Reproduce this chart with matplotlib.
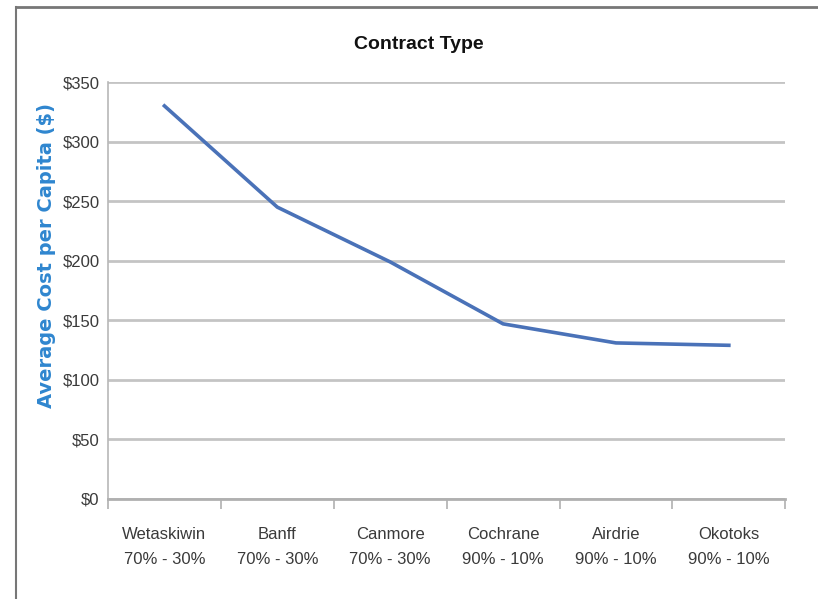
import matplotlib.pyplot as plt
from matplotlib.lines import Line2D

# data
towns = ['Wetaskiwin', 'Banff', 'Canmore', 'Cochrane', 'Airdrie', 'Okotoks']
splits = ['70% - 30%', '70% - 30%', '70% - 30%', '90% - 10%', '90% - 10%', '90% - 10%']
cost = [330, 245, 199, 147, 131, 129]
yticks = [0, 50, 100, 150, 200, 250, 300, 350]

narrow = ['Liberation Sans Narrow', 'Liberation Sans', 'DejaVu Sans']

fig = plt.figure(figsize=(8.18, 5.99), dpi=100)
ax = fig.add_axes([0.132, 0.167, 0.828, 0.696])

x = list(range(len(towns)))
ax.plot(x, cost, color='#4a72b8', lw=2.6, solid_joinstyle='round', zorder=3)

ax.set_xlim(-0.5, len(towns) - 0.5)
ax.set_ylim(0, 350)
ax.set_yticks(yticks)
ax.set_yticklabels(['$%d' % v for v in yticks], family=narrow, fontsize=12, color='#3a3a3a')
ax.yaxis.grid(True, color='#c4c4c4', lw=2)
ax.set_axisbelow(True)
ax.tick_params(axis='y', length=0, pad=6)

# category labels, boundaries get the ticks
ax.set_xticks(x)
ax.set_xticklabels([t + '\n' + s for t, s in zip(towns, splits)],
                   family=narrow, fontsize=12, color='#3a3a3a', linespacing=1.85)
ax.tick_params(axis='x', length=0, pad=20)
ax.set_xticks([i - 0.5 for i in range(len(towns) + 1)], minor=True)
ax.tick_params(axis='x', which='minor', length=7, width=1.2, color='#b0b0b0', direction='out')

for s in ['top', 'right']:
    ax.spines[s].set_visible(False)
ax.spines['left'].set_color('#b8b8b8')
ax.spines['left'].set_linewidth(1.2)
ax.spines['bottom'].set_color('#b0b0b0')
ax.spines['bottom'].set_linewidth(2)

fig.text(0.512, 0.925, 'Contract Type', family=narrow, fontsize=14,
         fontweight='bold', ha='center', va='center', color='#111111')
fig.text(0.057, 0.573, 'Average Cost per Capita ($)', rotation=90, fontsize=14,
         fontweight='bold', color='#2f86cf', ha='center', va='center', family='DejaVu Sans')

# outer frame lines (top and left)
fig.add_artist(Line2D([0.02, 1.0], [0.989, 0.989], transform=fig.transFigure, color='#777777', lw=2))
fig.add_artist(Line2D([0.02, 0.02], [0.0, 0.989], transform=fig.transFigure, color='#777777', lw=1.5))

plt.savefig('out.png', dpi=100)
